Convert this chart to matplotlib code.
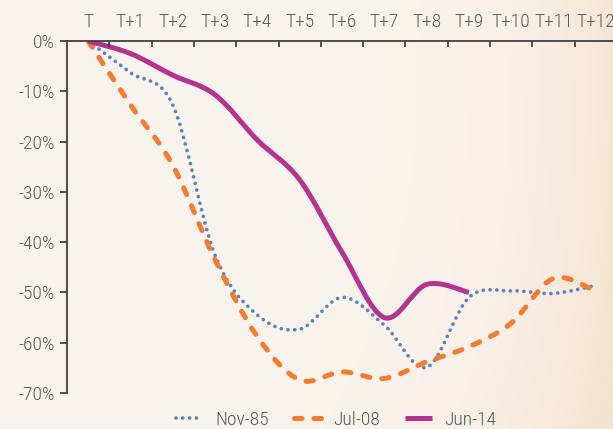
import numpy as np
import matplotlib
matplotlib.use("Agg")
import matplotlib.pyplot as plt
from matplotlib.path import Path
from matplotlib.patches import PathPatch
from matplotlib.lines import Line2D

# данные (в %)
periods = ["T", "T+1", "T+2", "T+3", "T+4", "T+5", "T+6",
           "T+7", "T+8", "T+9", "T+10", "T+11", "T+12"]
nov85 = [0, -6.3, -12.7, -42.6, -54.5, -57.3, -51.0, -56.5, -64.9, -51.0, -49.7, -50.2, -48.6]
jul08 = [0, -12.7, -24.7, -43.5, -58.8, -67.4, -65.8, -67.1, -63.8, -60.8, -56.1, -47.2, -49.8]
jun14 = [0, -2.5, -6.8, -10.7, -19.7, -27.6, -42.0, -55.0, -48.4, -50.0]
y_ticks = [0, -10, -20, -30, -40, -50, -60, -70]

plt.rcParams['font.family'] = ['Roboto Condensed', 'PT Sans Narrow', 'DejaVu Sans']
plt.rcParams['font.weight'] = 'light'
text_color = "#595959"


def smooth_path(values):
    # сглаженная линия как в Excel: кубические Безье через точки
    pts = np.column_stack([np.arange(len(values)), np.array(values) / 100.0])
    ext = np.vstack([pts[0], pts, pts[-1]])
    verts = [pts[0]]
    codes = [Path.MOVETO]
    for i in range(len(pts) - 1):
        p0, p1, p2, p3 = ext[i], ext[i + 1], ext[i + 2], ext[i + 3]
        verts += [p1 + (p2 - p0) / 6, p2 - (p3 - p1) / 6, p2]
        codes += [Path.CURVE4] * 3
    return Path(verts, codes)


fig = plt.figure(figsize=(6.13, 4.29), dpi=100)

# фон с мягким градиентом
bg = fig.add_axes([0, 0, 1, 1], zorder=-10)
gx, gy = np.meshgrid(np.linspace(0, 1, 300), np.linspace(0, 1, 200))
w = np.clip(0.9 * gx ** 7 + 0.35 * (gx * gy) ** 3, 0, 1)[..., None]
c0 = np.array([250, 244, 238]) / 255
c1 = np.array([246, 228, 210]) / 255
bg.imshow(c0 * (1 - w) + c1 * w, aspect="auto", extent=[0, 1, 0, 1], origin="upper")
bg.axis("off")

ax = fig.add_axes([67 / 613, 1 - 393 / 429, 550 / 613, 352 / 429])
ax.set_facecolor("none")

styles = [
    (nov85, "Nov-85", dict(color="#5b84be", lw=2.7, linestyle=(0, (0.01, 1.8)), capstyle="round")),
    (jul08, "Jul-08", dict(color="#f47b30", lw=3.6, linestyle=(0, (1.5, 2.4)), capstyle="round")),
    (jun14, "Jun-14", dict(color="#b4338f", lw=3.6, linestyle="-", capstyle="butt")),
]
handles = []
for values, label, st in styles:
    patch = PathPatch(smooth_path(values), fill=False, edgecolor=st["color"],
                      linewidth=st["lw"], linestyle=st["linestyle"],
                      capstyle=st["capstyle"], joinstyle="round")
    ax.add_patch(patch)
    handles.append(Line2D([], [], color=st["color"], lw=st["lw"],
                          linestyle=st["linestyle"], dash_capstyle=st["capstyle"],
                          solid_capstyle=st["capstyle"], label=label))

ax.set_xlim(-0.5, 12.5)
ax.set_ylim(-0.70, 0)

ax.xaxis.tick_top()
ax.set_xticks(range(len(periods)))
ax.set_xticklabels(periods)
ax.set_xticks(np.arange(0.5, 12, 1), minor=True)
ax.tick_params(axis="x", which="major", length=0, pad=7, labelsize=14, labelcolor=text_color)
ax.tick_params(axis="x", which="minor", direction="in", length=4, width=1.2, color="#333333")

ax.set_yticks(np.array(y_ticks) / 100)
ax.set_yticklabels([f"{v}%" for v in y_ticks])
ax.tick_params(axis="y", direction="out", length=5, width=1.2, color="#333333",
               pad=4, labelsize=14, labelcolor=text_color)

for side in ("bottom", "right"):
    ax.spines[side].set_visible(False)
for side in ("left", "top"):
    ax.spines[side].set_color("#404040")
    ax.spines[side].set_linewidth(1.3)

fig.legend(handles=handles, loc="center", bbox_to_anchor=(336 / 613, 0.022),
           ncol=3, frameon=False, fontsize=14, handlelength=1.4,
           handletextpad=0.6, columnspacing=1.3, labelcolor=text_color)

fig.savefig("out.png", dpi=100)
